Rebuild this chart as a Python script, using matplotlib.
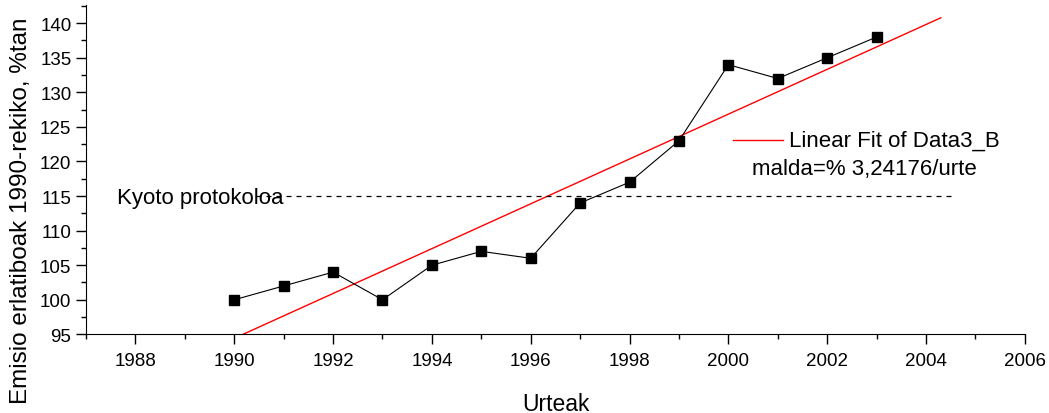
import numpy as np
import matplotlib.pyplot as plt
from matplotlib.ticker import MultipleLocator

plt.rcParams['font.family'] = ['Liberation Sans', 'DejaVu Sans']

# Datuak
urteak = np.array([1990, 1991, 1992, 1993, 1994, 1995, 1996,
                   1997, 1998, 1999, 2000, 2001, 2002, 2003])
emisioa = np.array([100, 102, 104, 100, 105, 107, 106,
                    114, 117, 123, 134, 132, 135, 138])
kyoto = 115

# Linear fit
slope, intercept = np.polyfit(urteak, emisioa, 1)
xfit = np.array([1990.0, 2004.3])
yfit = slope * xfit + intercept

fig = plt.figure(figsize=(10.49, 4.14), dpi=100)
ax = fig.add_axes([0.082, 0.19, 0.895, 0.795])

ax.plot(xfit, yfit, color="red", lw=1)
ax.plot(urteak, emisioa, "k-", lw=0.8, marker="s", ms=7)

ax.text(1987.62, kyoto - 0.2, "Kyoto protokoloa", fontsize=16, va="center")
ax.plot([1990.45, 2004.5], [kyoto, kyoto], "k--", lw=0.9, dashes=(4, 4))

# legend
ax.plot([2000.1, 2001.1], [123.1, 123.1], color="red", lw=1)
ax.text(2001.22, 123.1, "Linear Fit of Data3_B", fontsize=16, va="center")
ax.text(2000.47, 119.0, "malda=%% %s/urte" % f"{slope:.5f}".replace(".", ","),
        fontsize=16, va="center")

ax.set_xlim(1987, 2006)
ax.set_ylim(95, 142.6)
ax.set_xticks(np.arange(1988, 2007, 2))
ax.xaxis.set_minor_locator(MultipleLocator(1))
ax.yaxis.set_major_locator(MultipleLocator(5))
ax.yaxis.set_minor_locator(MultipleLocator(2.5))
ax.set_xlim(1987, 2006)
ax.spines["top"].set_visible(False)
ax.spines["right"].set_visible(False)
ax.tick_params(which="major", direction="out", length=7, width=1, labelsize=13.5)
ax.tick_params(axis="x", which="major", pad=6)
ax.tick_params(which="minor", direction="out", length=3.5, width=1)
ax.set_xlabel("Urteak", fontsize=16.5, labelpad=16)
ax.set_ylabel("Emisio erlatiboak 1990-rekiko, %tan", fontsize=17.5)
ax.yaxis.set_label_coords(-0.058, 0.378)

fig.savefig("out.png", dpi=100)
